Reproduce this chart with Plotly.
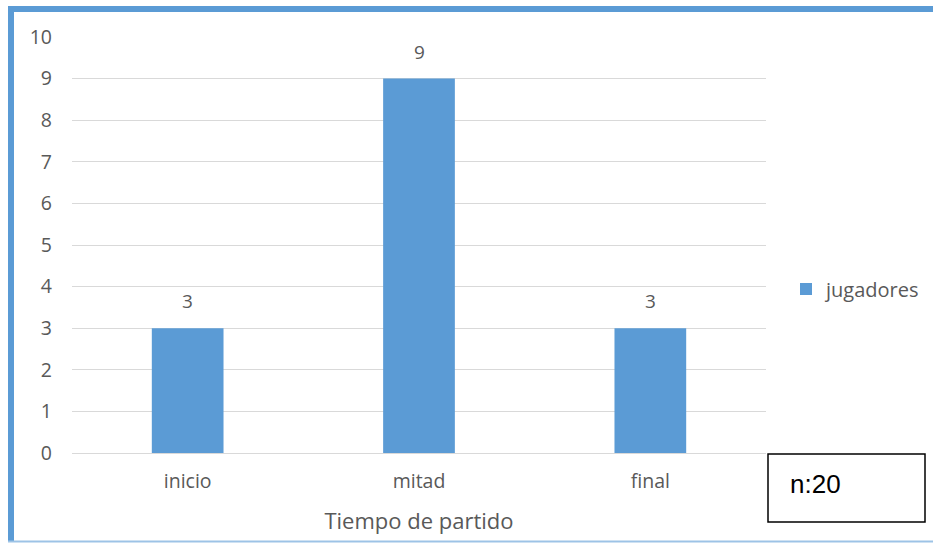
import plotly.graph_objects as go

# Chart data
categorias = ["inicio", "mitad", "final"]
jugadores = [3, 9, 3]
y_ticks = list(range(0, 11))
nota_muestra = "n:20"

W, H = 933, 543
L, R, T, B = 72, 167, 37, 90
plot_w = W - L - R
plot_h = H - T - B


def px_x(px):
    return (px - L) / plot_w


def px_y(py):
    return (H - B - py) / plot_h


azul = "#5B9BD5"
gris_texto = "#595959"
fuente = "Open Sans"

fig = go.Figure()
fig.add_trace(go.Bar(
    x=categorias,
    y=jugadores,
    name="jugadores",
    marker=dict(color=azul, line=dict(width=0)),
    showlegend=True,
))

# Value labels above each bar
for c, v in zip(categorias, jugadores):
    fig.add_annotation(
        x=c, y=v, text=str(v), showarrow=False, yshift=27,
        font=dict(family=fuente, size=19, color=gris_texto),
    )

# Sample-size box
fig.add_shape(type="rect", xref="paper", yref="paper",
              x0=px_x(768), x1=px_x(925), y0=px_y(522), y1=px_y(454),
              line=dict(color="#000000", width=1.5), fillcolor="white", layer="above")
fig.add_annotation(xref="paper", yref="paper", x=px_x(788), y=px_y(484),
                   xanchor="left", yanchor="middle", showarrow=False,
                   text=nota_muestra,
                   font=dict(family="Liberation Sans", size=26, color="#000000"))

# Blue frame around the figure
fig.add_shape(type="rect", xref="paper", yref="paper",
              x0=px_x(8), x1=px_x(14), y0=px_y(541), y1=px_y(6),
              line=dict(width=0), fillcolor=azul, layer="above")
fig.add_shape(type="rect", xref="paper", yref="paper",
              x0=px_x(8), x1=px_x(933), y0=px_y(12), y1=px_y(6),
              line=dict(width=0), fillcolor=azul, layer="above")
fig.add_shape(type="line", xref="paper", yref="paper",
              x0=px_x(8), x1=px_x(933), y0=px_y(541.5), y1=px_y(541.5),
              line=dict(color="#9DC3E6", width=2), layer="above")

fig.update_layout(
    width=W, height=H,
    margin=dict(l=L, r=R, t=T, b=B, autoexpand=False),
    paper_bgcolor="white", plot_bgcolor="white",
    bargap=0.69,
    font=dict(family=fuente, color=gris_texto, size=19),
    legend=dict(
        x=px_x(786), y=px_y(289), xanchor="left", yanchor="middle",
        font=dict(family=fuente, size=20, color=gris_texto),
        bgcolor="rgba(0,0,0,0)",
    ),
    xaxis=dict(
        showgrid=False, showline=True, linecolor="#D9D9D9", linewidth=1,
        ticks="", ticklabelstandoff=11,
        tickfont=dict(family=fuente, size=19.5, color=gris_texto),
        title=dict(text="Tiempo de partido", standoff=20,
                   font=dict(family=fuente, size=22, color=gris_texto)),
    ),
    yaxis=dict(
        range=[0, 10], tickvals=y_ticks,
        showgrid=True, gridcolor="#D9D9D9", gridwidth=1,
        zeroline=False, showline=False, ticks="",
        ticklabelstandoff=19,
        tickfont=dict(family=fuente, size=19.5, color=gris_texto),
    ),
)

fig.write_html("out.html")
